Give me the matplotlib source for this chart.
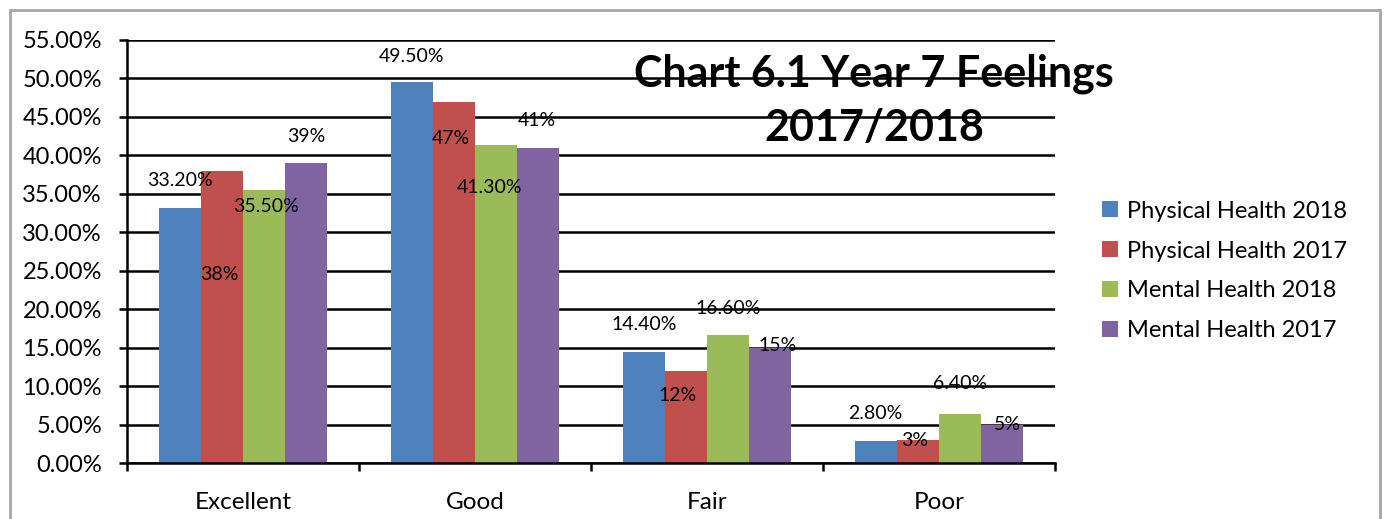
import matplotlib
matplotlib.use("Agg")
import matplotlib.pyplot as plt
from matplotlib.patches import Rectangle, Patch
import numpy as np

categories = ["Excellent", "Good", "Fair", "Poor"]
series_names = ["Physical Health 2018", "Physical Health 2017", "Mental Health 2018", "Mental Health 2017"]
phys_2018 = [33.2, 49.5, 14.4, 2.8]
phys_2017 = [38, 47, 12, 3]
ment_2018 = [35.5, 41.3, 16.6, 6.4]
ment_2017 = [39, 41, 15, 5]
label_phys_2018 = ["33.20%", "49.50%", "14.40%", "2.80%"]
label_phys_2017 = ["38%", "47%", "12%", "3%"]
label_ment_2018 = ["35.50%", "41.30%", "16.60%", "6.40%"]
label_ment_2017 = ["39%", "41%", "15%", "5%"]
y_ticks = [0, 5, 10, 15, 20, 25, 30, 35, 40, 45, 50, 55]
title_text = "Chart 6.1 Year 7 Feelings\n2017/2018"

series = [phys_2018, phys_2017, ment_2018, ment_2017]
labels = [label_phys_2018, label_phys_2017, label_ment_2018, label_ment_2017]
colors = ["#4F81BD", "#C0504D", "#9BBB59", "#8064A2"]

# label offsets in pixels (dx, dy) per series per category (manual Excel placement)
offsets = [
    [(0, 27), (0, 26), (0, 28), (0, 28)],
    [(-3, -104), (-3, -37), (-8, -25), (-3, -1)],
    [(2, -17), (-7, -42), (0, 27), (0, 30)],
    [(0, 27), (-1, 27), (7, 2), (5, 0)],
]

plt.rcParams['font.family'] = ['Lato', 'DejaVu Sans']

fig = plt.figure(figsize=(13.88, 5.19), dpi=100)
ax = fig.add_axes([127/1388, 1 - 463/519, (1055 - 127)/1388, (463 - 40)/519])

# outer frame
fig.patches.append(Rectangle((10/1388, -0.1), (1380 - 10)/1388, 1.1 - 10/519,
                             transform=fig.transFigure, fill=False,
                             edgecolor="#A6A6A6", linewidth=2))

x = np.arange(len(categories))
bw = 0.182
for i, (vals, col) in enumerate(zip(series, colors)):
    pos = x + (i - 1.5) * bw
    ax.bar(pos, vals, width=bw, color=col, zorder=2)
    for j, (px, v) in enumerate(zip(pos, vals)):
        dx, dy = offsets[i][j]
        ax.annotate(labels[i][j], (px, v), xytext=(dx, dy), textcoords="offset pixels",
                    ha="center", va="center", fontsize=14, color="black", zorder=4)

ax.set_xlim(-0.5, 3.5)
ax.set_ylim(0, 55)
ax.set_yticks(y_ticks)
ax.set_yticklabels([f"{t:.2f}%" for t in y_ticks], fontsize=17)
ax.yaxis.grid(True, color="black", linewidth=1.8, zorder=1)
ax.set_axisbelow(True)

ax.set_xticks(np.arange(-0.5, 4, 1))
ax.set_xticklabels([])
ax.set_xticks(x, minor=True)
ax.set_xticklabels(categories, minor=True, fontsize=17.5)
ax.tick_params(axis="x", which="minor", length=0, pad=21)
ax.tick_params(axis="x", which="major", length=6, width=1.8, direction="out", color="black")
ax.tick_params(axis="y", length=6, width=1.8, direction="out", color="black", pad=12)

for s in ["top", "right"]:
    ax.spines[s].set_visible(False)
for s in ["left", "bottom"]:
    ax.spines[s].set_linewidth(1.8)
    ax.spines[s].set_color("black")
    ax.spines[s].set_zorder(3)

ax.text(874/1388, 1 - 101/519, title_text, transform=fig.transFigure,
        ha="center", va="center", fontsize=31, fontweight="bold",
        linespacing=1.42, zorder=5)

handles = [Patch(facecolor=c) for c in colors]
fig.legend(handles, series_names, loc="center left", bbox_to_anchor=(1081/1388, 1 - 271/519),
           frameon=False, fontsize=17, handlelength=0.65, handleheight=0.65,
           handletextpad=0.4, labelspacing=0.8)

fig.savefig("out.png", dpi=100)
